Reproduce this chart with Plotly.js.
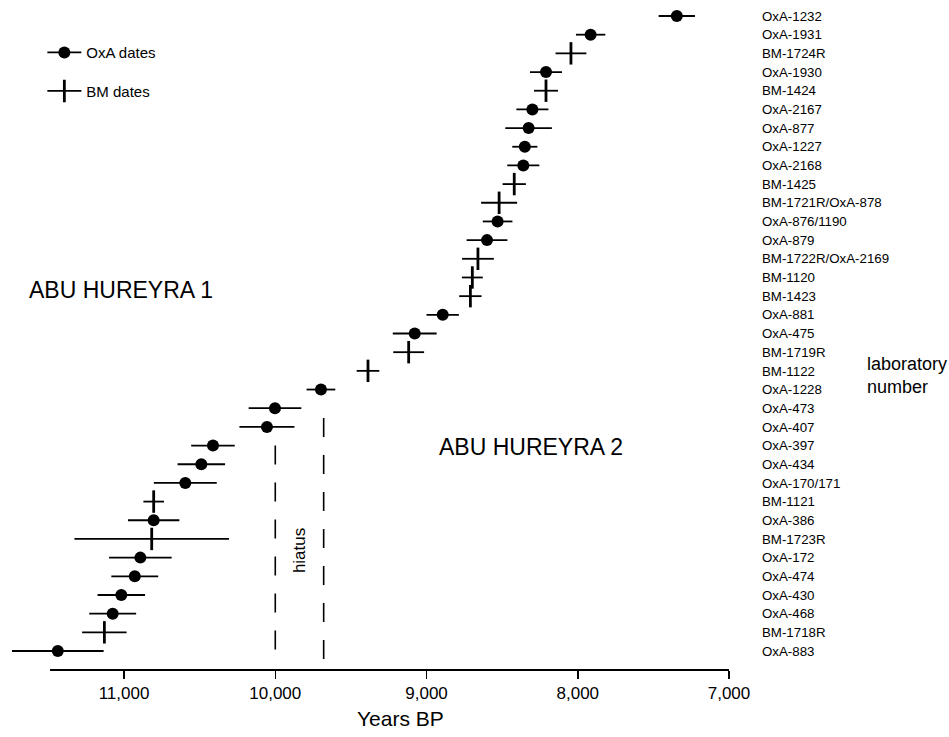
<!DOCTYPE html>
<html>
<head>
<meta charset="utf-8">
<script src="https://cdn.plot.ly/plotly-3.0.1.min.js"></script>
<style>html,body{margin:0;padding:0;background:#fff;}#chart{width:949px;height:737px;}</style>
</head>
<body>
<div id="chart"></div>
<script>
// Laboratory numbers (top to bottom)
var labNumbers = ["OxA-1232","OxA-1931","BM-1724R","OxA-1930","BM-1424","OxA-2167","OxA-877","OxA-1227","OxA-2168","BM-1425","BM-1721R/OxA-878","OxA-876/1190","OxA-879","BM-1722R/OxA-2169","BM-1120","BM-1423","OxA-881","OxA-475","BM-1719R","BM-1122","OxA-1228","OxA-473","OxA-407","OxA-397","OxA-434","OxA-170/171","BM-1121","OxA-386","BM-1723R","OxA-172","OxA-474","OxA-430","OxA-468","BM-1718R","OxA-883"];
// Radiocarbon dates, years BP
var datesBP = [7345,7915,8045,8210,8210,8300,8325,8350,8360,8420,8520,8530,8600,8660,8697,8710,8893,9078,9118,9387,9698,10002,10055,10412,10489,10595,10804,10804,10817,10892,10929,11018,11075,11130,11438];
// One-sigma errors, years
var sigmas = [120,97,102,106,79,106,154,83,106,77,119,98,135,105,69,74,107,145,102,75,95,174,182,144,157,208,68,170,511,207,155,157,155,147,303];
// Dating series of each sample
var series = ["OxA","OxA","BM","OxA","BM","OxA","OxA","OxA","OxA","BM","BM","OxA","OxA","BM","BM","BM","OxA","OxA","BM","BM","OxA","OxA","OxA","OxA","OxA","OxA","BM","OxA","BM","OxA","OxA","OxA","OxA","BM","OxA"];
var xTicks = [11000,10000,9000,8000,7000];
var xTickLabels = ["11,000","10,000","9,000","8,000","7,000"];
var hiatusStart = 10000, hiatusEnd = 9680;

var FONT = '"Liberation Sans", Arial, Helvetica, sans-serif';

function pick(arr, s){ return arr.filter(function(_, i){ return series[i] === s; }); }

var oxa = {
  type: 'scatter', mode: 'markers', showlegend: false,
  x: pick(datesBP,'OxA'), y: pick(labNumbers,'OxA'),
  error_x: {type:'data', array: pick(sigmas,'OxA'), symmetric: true, color:'#000', thickness: 1.8, width: 0},
  marker: {symbol:'circle', size: 12, color:'#000'}
};
var bm = {
  type: 'scatter', mode: 'markers', showlegend: false,
  x: pick(datesBP,'BM'), y: pick(labNumbers,'BM'),
  error_x: {type:'data', array: pick(sigmas,'BM'), symmetric: true, color:'#000', thickness: 1.8, width: 0},
  marker: {symbol:'line-ns', size: 16, color:'#000', line:{color:'#000', width: 2.8}}
};
var legOxa = {type:'scatter', mode:'lines+markers', name:'OxA dates', legendgroup:'a',
  x:[null], y:[null], line:{color:'#000', width:1.8}, marker:{symbol:'circle', size:12, color:'#000'}};
var legBm = {type:'scatter', mode:'lines+markers', name:'BM dates', legendgroup:'b',
  x:[null], y:[null], line:{color:'#000', width:1.8}, marker:{symbol:'line-ns', size:16, color:'#000', line:{color:'#000', width:2.8}}};

var nRows = labNumbers.length;
var layout = {
  width: 949, height: 737,
  margin: {l: 10, r: 220, t: 0, b: 67},
  paper_bgcolor: '#fff', plot_bgcolor: '#fff',
  font: {family: FONT, color: '#000'},
  showlegend: true,
  legend: {x: 0.045, y: 0.946, xanchor: 'left', yanchor: 'top', font: {size: 15, family: FONT}, tracegroupgap: 16, itemwidth: 34, bgcolor: 'rgba(0,0,0,0)'},
  xaxis: {
    range: [11754, 7000], showgrid: false, zeroline: false, showline: false,
    tickmode: 'array', tickvals: xTicks, ticktext: xTickLabels,
    ticks: 'outside', ticklen: 8, tickwidth: 1.5, tickcolor: '#000',
    tickfont: {size: 17, family: FONT}
  },
  yaxis: {
    type: 'category', categoryorder: 'array', categoryarray: labNumbers,
    range: [nRows - 1 + 1.017, -0.857], side: 'right',
    showgrid: false, zeroline: false, showline: false, ticks: '',
    ticklabelstandoff: 32,
    tickfont: {size: 13.3, family: FONT}
  },
  shapes: [
    {type:'line', xref:'x', yref:'paper', x0: 11489, x1: 7000, y0: 0, y1: 0, line:{color:'#000', width:2}},
    {type:'line', xref:'x', yref:'y', x0: hiatusStart, x1: hiatusStart, y0: 23.0, y1: 34.05, line:{color:'#000', width:1.6, dash:'19px,18px'}},
    {type:'line', xref:'x', yref:'y', x0: hiatusEnd, x1: hiatusEnd, y0: 21.52, y1: 34.6, line:{color:'#000', width:1.6, dash:'19px,18px'}}
  ],
  annotations: [
    {text:'ABU HUREYRA 1', xref:'x', yref:'y', x: 11020, y: 14.67, showarrow:false, font:{size:23, family:FONT}},
    {text:'ABU HUREYRA 2', xref:'x', yref:'y', x: 8309, y: 23.08, showarrow:false, font:{size:23, family:FONT}},
    {text:'hiatus', xref:'x', yref:'y', x: 9843, y: 28.65, showarrow:false, textangle:-90, font:{size:17, family:FONT}},
    {text:'Years BP', xref:'x', yref:'paper', x: 9169, y: -0.073, yanchor:'middle', showarrow:false, font:{size:21, family:FONT}},
    {text:'laboratory<br>number', xref:'paper', yref:'paper', x: 1.189, y: 0.439, xanchor:'left', yanchor:'middle', align:'left', showarrow:false, font:{size:18, family:FONT}}
  ]
};

Plotly.newPlot('chart', [oxa, bm, legOxa, legBm], layout, {displayModeBar: false, staticPlot: true});
</script>
</body>
</html>
